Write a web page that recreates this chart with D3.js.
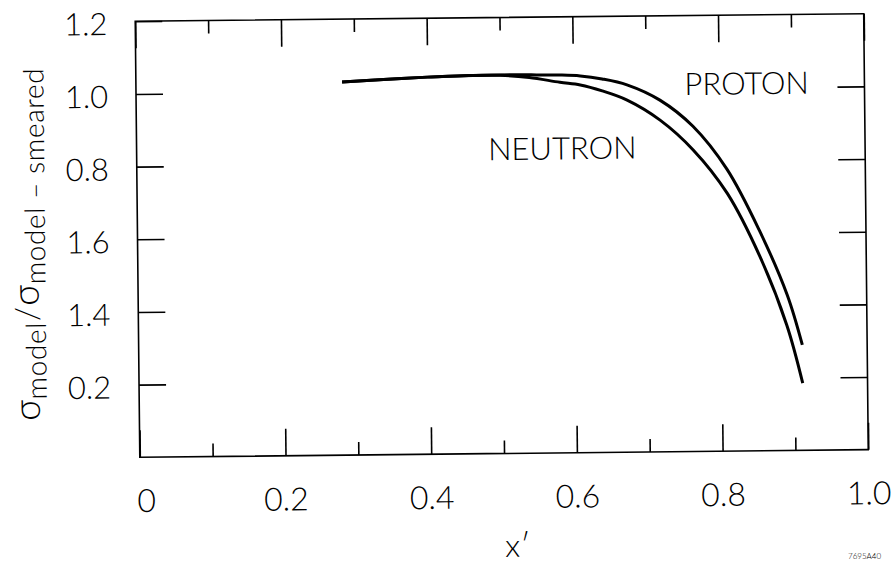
<!DOCTYPE html>
<html>
<head>
<meta charset="utf-8">
<script src="https://cdn.jsdelivr.net/npm/d3@7"></script>
<style>
  html, body { margin: 0; padding: 0; background: #fff; }
  svg { display: block; }
  text { font-family: Lato, "DejaVu Sans", sans-serif; font-weight: 300; fill: #000; }
</style>
</head>
<body>
<svg id="chart" width="891" height="564"></svg>
<script>
// Curve samples: x' and the cross-section ratio
const protonX  = [0.283, 0.34, 0.40, 0.45, 0.50, 0.55, 0.58, 0.61, 0.64, 0.674, 0.719, 0.764, 0.81, 0.854, 0.891, 0.911];
const protonY  = [1.027, 1.033, 1.038, 1.041, 1.042, 1.041, 1.040, 1.037, 1.028, 1.011, 0.968, 0.895, 0.776, 0.605, 0.428, 0.290];
const neutronX = [0.283, 0.34, 0.40, 0.45, 0.50, 0.54, 0.582, 0.61, 0.64, 0.674, 0.719, 0.764, 0.81, 0.854, 0.890, 0.911];
const neutronY = [1.027, 1.033, 1.038, 1.041, 1.041, 1.034, 1.020, 1.012, 0.995, 0.969, 0.913, 0.830, 0.710, 0.535, 0.345, 0.185];

// Axis ticks and their printed labels
const xMajorTicks = [0, 0.2, 0.4, 0.6, 0.8, 1.0];
const xMinorTicks = [0.1, 0.3, 0.5, 0.7, 0.9];
const xTickLabels = ["0", "0.2", "0.4", "0.6", "0.8", "1.0"];
const yTicks      = [0.2, 0.4, 0.6, 0.8, 1.0, 1.2];
const yTickLabels = ["0.2", "1.4", "1.6", "0.8", "1.0", "1.2"];

const svg = d3.select("#chart");
const plotLeft = 137.5, plotRight = 866, plotTop = 17.5, plotBottom = 453.5;

const x = d3.scaleLinear().domain([0, 1]).range([plotLeft, plotRight]);
const y = d3.scaleLinear().domain([0, 1.2]).range([plotBottom, plotTop]);

// whole sheet sits slightly tilted
const g = svg.append("g").attr("transform", "rotate(-0.6, 501, 235)");

// frame
g.append("rect")
  .attr("x", plotLeft).attr("y", plotTop)
  .attr("width", plotRight - plotLeft).attr("height", plotBottom - plotTop)
  .attr("fill", "none").attr("stroke", "#000").attr("stroke-width", 1.6);

function styleAxis(sel) {
  sel.select(".domain").remove();
  sel.selectAll(".tick line").attr("stroke", "#000").attr("stroke-width", 1.6);
}

// bottom axis: major + minor inward ticks
const xLab = d3.scaleOrdinal().domain(xMajorTicks).range(xTickLabels);
g.append("g").attr("transform", `translate(0,${plotBottom})`)
  .call(d3.axisBottom(x).tickValues(xMajorTicks).tickSize(-27).tickPadding(32)
        .tickFormat(d => xLab(d)))
  .call(styleAxis)
  .call(s => s.selectAll("text").attr("font-size", 32).attr("font-family", null).attr("fill", "#000"))
  .call(s => s.selectAll(".tick text").filter(d => d === 0).attr("dx", 6));
g.append("g").attr("transform", `translate(0,${plotBottom})`)
  .call(d3.axisBottom(x).tickValues(xMinorTicks).tickSize(-13).tickFormat(""))
  .call(styleAxis);

// top axis
g.append("g").attr("transform", `translate(0,${plotTop})`)
  .call(d3.axisTop(x).tickValues(xMajorTicks).tickSize(-27).tickFormat(""))
  .call(styleAxis);
g.append("g").attr("transform", `translate(0,${plotTop})`)
  .call(d3.axisTop(x).tickValues(xMinorTicks).tickSize(-13).tickFormat(""))
  .call(styleAxis);

// left axis with labels
const yLab = d3.scaleOrdinal().domain(yTicks).range(yTickLabels);
g.append("g").attr("transform", `translate(${plotLeft},0)`)
  .call(d3.axisLeft(y).tickValues(yTicks).tickSize(-27).tickPadding(28)
        .tickFormat(d => yLab(d)))
  .call(styleAxis)
  .call(s => s.selectAll("text").attr("font-size", 31).attr("font-family", null)
              .attr("fill", "#000").attr("dy", "0.42em"));

// right axis
g.append("g").attr("transform", `translate(${plotRight},0)`)
  .call(d3.axisRight(y).tickValues(yTicks.slice(0, 5)).tickSize(-27).tickFormat(""))
  .call(styleAxis);

// curves
const line = d3.line().x(d => x(d[0])).y(d => y(d[1])).curve(d3.curveCatmullRom.alpha(0.5));
const proton = protonX.map((v, i) => [v, protonY[i]]);
const neutron = neutronX.map((v, i) => [v, neutronY[i]]);
[proton, neutron].forEach(data => {
  g.append("path").datum(data)
    .attr("d", line)
    .attr("fill", "none").attr("stroke", "#000")
    .attr("stroke-width", 3).attr("stroke-linecap", "butt");
});

// curve labels
g.append("text").attr("x", 686).attr("y", 97).attr("font-size", 31).text("PROTON");
g.append("text").attr("x", 489).attr("y", 160).attr("font-size", 31).text("NEUTRON");

// axis titles
g.append("text").attr("x", 502).attr("y", 557).attr("font-size", 32).text("x\u2032");

const yt = g.append("text")
  .attr("transform", "translate(38,416) rotate(-90)")
  .attr("font-size", 37);
yt.append("tspan").text("\u03C3");
yt.append("tspan").attr("font-size", 28).attr("dy", 7).attr("letter-spacing", 0.6).text("model");
yt.append("tspan").attr("dy", -7).attr("font-size", 33).attr("dx", 1).text("/");
yt.append("tspan").attr("font-size", 37).attr("dx", 1).text("\u03C3");
yt.append("tspan").attr("font-size", 28).attr("dy", 7).attr("letter-spacing", 0.6)
  .text("model \u2013 smeared");

// drawing number
svg.append("text").attr("x", 848).attr("y", 559)
  .attr("font-size", 8).attr("font-weight", 700).attr("font-family", "'DejaVu Sans'")
  .text("7695A40");
</script>
</body>
</html>
